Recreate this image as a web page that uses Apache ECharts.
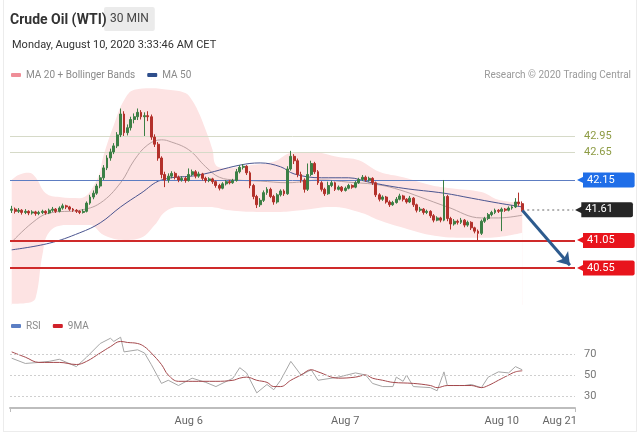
<!DOCTYPE html>
<html>
<head>
<meta charset="utf-8">
<script src="https://cdn.jsdelivr.net/npm/echarts@6/dist/echarts.min.js"></script>
<style>
  html, body { margin: 0; padding: 0; background: #fff; }
  #chart { width: 640px; height: 434px; }
  #frame { position: absolute; left: 3px; top: 0; width: 632px; height: 431px; border: 1px solid #ececec; border-top: none; pointer-events: none; }
</style>
</head>
<body>
<div id="chart"></div>
<div id="frame"></div>
<script>
// 30 min candles, [open, close, low, high]
const candles = [
  [41.60,41.62,41.55,41.68],[41.62,41.58,41.54,41.65],[41.58,41.60,41.55,41.64],[41.60,41.56,41.52,41.62],
  [41.56,41.58,41.53,41.62],[41.58,41.55,41.51,41.60],[41.55,41.57,41.52,41.60],[41.57,41.54,41.50,41.59],
  [41.54,41.56,41.51,41.59],[41.56,41.58,41.53,41.61],[41.58,41.55,41.52,41.60],[41.55,41.60,41.53,41.63],
  [41.60,41.62,41.57,41.66],[41.62,41.58,41.55,41.64],[41.58,41.64,41.56,41.67],[41.64,41.68,41.61,41.72],
  [41.68,41.66,41.62,41.70],[41.66,41.62,41.59,41.68],[41.62,41.60,41.57,41.64],[41.60,41.58,41.55,41.62],
  [41.58,41.56,41.53,41.60],[41.56,41.58,41.54,41.62],[41.58,41.73,41.56,41.76],[41.73,41.84,41.70,41.88],
  [41.84,41.91,41.80,41.96],[41.91,42.04,41.88,42.08],[42.04,42.19,42.00,42.24],[42.19,42.37,42.15,42.42],
  [42.37,42.55,42.33,42.60],[42.55,42.66,42.50,42.72],[42.66,42.77,42.62,42.82],[42.77,42.97,42.73,43.02],
  [42.97,43.35,42.93,43.45],[43.35,43.01,42.95,43.40],[43.01,43.10,42.96,43.16],[43.10,43.25,43.05,43.30],
  [43.25,43.30,43.18,43.36],[43.30,43.38,43.24,43.45],[43.38,43.30,43.25,43.42],[43.30,43.32,42.95,43.38],
  [43.32,43.30,43.22,43.40],[43.30,42.93,42.88,43.34],[42.93,42.80,42.75,42.98],[42.80,42.55,42.50,42.84],
  [42.55,42.25,42.18,42.58],[42.25,42.15,42.02,42.30],[42.15,42.22,42.10,42.27],[42.22,42.27,42.18,42.31],
  [42.27,42.20,42.16,42.30],[42.20,42.15,42.11,42.23],[42.15,42.18,42.12,42.22],[42.18,42.14,42.10,42.21],
  [42.14,42.25,42.12,42.36],[42.25,42.30,42.22,42.34],[42.30,42.22,42.18,42.33],[42.22,42.26,42.19,42.30],
  [42.26,42.18,42.14,42.28],[42.18,42.14,42.10,42.21],[42.14,42.17,42.11,42.20],[42.17,42.12,42.08,42.19],
  [42.12,42.05,42.01,42.14],[42.05,42.00,41.96,42.08],[42.00,42.08,41.98,42.11],[42.08,42.12,42.05,42.15],
  [42.12,42.10,42.07,42.15],[42.10,42.14,42.08,42.17],[42.14,42.30,42.12,42.35],[42.30,42.38,42.27,42.42],
  [42.38,42.40,42.34,42.44],[42.40,42.28,42.24,42.42],[42.28,42.05,42.00,42.31],[42.05,41.85,41.80,42.08],
  [41.85,41.70,41.64,41.88],[41.70,41.78,41.66,41.82],[41.78,41.92,41.75,41.96],[41.92,41.98,41.88,42.02],
  [41.98,41.85,41.82,42.01],[41.85,41.75,41.70,41.88],[41.75,41.88,41.72,41.91],[41.88,41.95,41.85,41.98],
  [41.95,41.90,41.86,41.98],[41.90,42.35,41.88,42.40],[42.35,42.58,42.32,42.68],[42.58,42.50,42.44,42.62],
  [42.50,42.25,42.20,42.54],[42.25,42.15,42.10,42.30],[42.15,41.98,41.92,42.18],[41.98,42.25,41.95,42.45],
  [42.25,42.45,42.22,42.50],[42.45,42.30,42.26,42.48],[42.30,42.10,42.06,42.33],[42.10,41.98,41.94,42.13],
  [41.98,41.90,41.86,42.01],[41.90,42.05,41.88,42.12],[42.05,42.10,42.02,42.14],[42.10,41.98,41.95,42.12],
  [41.98,42.02,41.96,42.05],[42.02,41.96,41.93,42.04],[41.96,42.00,41.94,42.03],[42.00,42.05,41.98,42.08],
  [42.05,42.02,41.99,42.07],[42.02,42.10,42.00,42.13],[42.10,42.16,42.08,42.19],[42.16,42.20,42.13,42.24],
  [42.20,42.15,42.12,42.23],[42.15,42.18,42.12,42.21],[42.18,42.10,42.06,42.20],[42.10,41.88,41.84,42.12],
  [41.88,41.80,41.76,41.91],[41.80,41.84,41.77,41.87],[41.84,41.75,41.72,41.86],[41.75,41.70,41.66,41.78],
  [41.70,41.74,41.68,41.77],[41.74,41.80,41.72,41.84],[41.80,41.86,41.78,41.90],[41.86,41.80,41.76,41.88],
  [41.80,41.75,41.72,41.82],[41.75,41.82,41.73,41.86],[41.82,41.70,41.66,41.84],[41.70,41.60,41.56,41.72],
  [41.60,41.62,41.57,41.66],[41.62,41.56,41.52,41.64],[41.56,41.58,41.53,41.61],[41.58,41.50,41.46,41.60],
  [41.50,41.42,41.38,41.53],[41.42,41.46,41.40,41.49],[41.46,41.42,41.38,41.48],[41.42,41.85,41.40,42.15],
  [41.85,41.45,41.40,41.88],[41.45,41.35,41.25,41.48],[41.35,41.40,41.32,41.44],[41.40,41.38,41.34,41.43],
  [41.38,41.42,41.35,41.46],[41.42,41.33,41.29,41.44],[41.33,41.38,41.30,41.41],[41.38,41.28,41.24,41.40],
  [41.28,41.22,41.18,41.30],[41.22,41.18,41.05,41.25],[41.18,41.40,41.15,41.43],[41.40,41.45,41.37,41.48],
  [41.45,41.52,41.42,41.55],[41.52,41.56,41.49,41.59],[41.56,41.60,41.53,41.63],[41.60,41.58,41.55,41.62],
  [41.58,41.62,41.22,41.65],[41.62,41.60,41.57,41.64],[41.60,41.64,41.58,41.67],[41.64,41.66,41.61,41.69],
  [41.66,41.75,41.64,41.82],[41.75,41.72,41.68,41.92],[41.72,41.61,41.58,41.76]
];
const emptySlots = 15;   // blank room on the right of the last candle

// indicators read at sample candles: [candle index, value]
const ma20 = [[0,41.02],[6,41.37],[11,41.55],[20,41.60],[26,41.73],[32,42.10],[36,42.51],[40,42.79],
  [44,42.88],[46,42.86],[52,42.70],[57,42.39],[61,42.20],[66,42.15],[73,42.13],[81,42.10],[91,42.15],
  [99,42.11],[108,42.06],[114,41.97],[120,41.84],[128,41.66],[138,41.46],[143,41.46],[150,41.51]];
const ma50 = [[0,40.88],[11,41.00],[20,41.19],[26,41.37],[32,41.66],[38,41.91],[44,42.15],[55,42.24],
  [67,42.42],[73,42.46],[79,42.39],[83,42.26],[91,42.19],[99,42.19],[105,42.11],[115,42.00],[127,41.91],
  [135,41.82],[143,41.73],[150,41.66]];
const bandUpper = [[0,42.15],[2,42.24],[5,42.28],[7,42.20],[10,41.91],[14,41.84],[20,41.82],[25,42.15],
  [27,42.60],[30,43.15],[33,43.60],[36,43.79],[41,43.82],[46,43.79],[51,43.73],[53,43.60],[55,43.37],
  [57,43.06],[59,42.70],[60,42.42],[63,42.37],[70,42.42],[77,42.48],[82,42.64],[88,42.66],[96,42.57],
  [102,42.51],[108,42.30],[115,42.20],[123,42.06],[129,42.00],[138,41.93],[143,41.79],[150,41.73]];
const bandLower = [[0,39.90],[5,39.92],[7,40.00],[9,40.78],[11,41.20],[16,41.33],[23,41.33],[27,41.15],
  [33,41.06],[38,41.10],[42,41.33],[45,41.57],[49,41.66],[58,41.66],[64,41.60],[72,41.57],[79,41.57],
  [85,41.60],[94,41.66],[102,41.57],[108,41.42],[114,41.30],[123,41.15],[132,41.10],[140,41.10],[150,41.19]];

const rsi = [[0,66],[4,61],[8,62],[11,63],[14,65],[19,58],[22,67],[26,80],[29,85],[30,82],[32,86],[33,72],
  [37,74],[39,71],[41,60],[44,42],[46,45],[49,40],[53,47],[57,43],[60,39],[65,47],[67,57],[69,52],[72,33],
  [75,41],[77,36],[79,45],[82,63],[85,50],[88,55],[90,45],[96,48],[101,52],[104,50],[106,42],[109,39],
  [112,39],[113,48],[115,44],[116,50],[118,39],[123,38],[125,35],[127,53],[128,40],[133,40],[135,41],
  [138,38],[140,48],[143,53],[146,52],[148,58],[150,55]];
const rsiMa = [[0,72],[4,67],[8,62],[14,62],[19,60],[22,63],[26,71],[29,77],[32,82],[34,81],[37,80],
  [39,77],[41,71],[44,60],[46,50],[49,44],[53,44],[60,44],[65,45],[67,47],[69,48],[72,45],[75,43],[77,39],
  [79,39],[82,45],[85,50],[88,55],[90,53],[96,47],[101,48],[104,50],[106,47],[109,45],[112,43],[118,42],
  [123,40],[125,38],[128,40],[135,40],[138,38],[140,40],[143,45],[146,50],[148,53],[150,54]];
const rsiLevels = [30, 50, 70];

const resistances = [42.95, 42.65];
const pivot = 42.15;
const lastPrice = 41.61;
const supports = [41.05, 40.55];
const arrowTarget = [164, 40.60];

const dateLabelIdx = [52, 98, 144, 161];
const dateLabelText = ['Aug 6', 'Aug 7', 'Aug 10', 'Aug 21'];

const nCat = candles.length + emptySlots;
const cats = [];
for (let i = 0; i < nCat; i++) cats.push(String(i));
const lastIdx = candles.length - 1;

function tag(bg, value) {
  return {
    show: true, position: 'end', distance: 2,
    formatter: '{p|◀}{b|' + value.toFixed(2) + '}',
    rich: {
      p: { color: bg, fontSize: 12, padding: [0, -3, 0, 0] },
      b: { color: '#fff', backgroundColor: bg, fontSize: 11, padding: [2, 20, 2, 4], borderRadius: [0, 2, 2, 0] }
    }
  };
}

const levelLines = [];
resistances.forEach(function (v) {
  levelLines.push({
    yAxis: v, lineStyle: { color: '#d6dac8', width: 1, type: 'solid' },
    label: { show: true, position: 'end', distance: 9, color: '#8e9c45', fontSize: 11, formatter: v.toFixed(2) }
  });
});
levelLines.push({ yAxis: pivot, lineStyle: { color: '#5d7dc2', width: 1, type: 'solid' }, label: tag('#1f6ee8', pivot) });
supports.forEach(function (v) {
  levelLines.push({ yAxis: v, lineStyle: { color: '#cf2a2a', width: 2, type: 'solid' }, label: tag('#e8141c', v) });
});
levelLines.push([
  { coord: [lastIdx, lastPrice], lineStyle: { color: '#9a9a9a', width: 1.5, type: [2, 3] }, label: tag('#262626', lastPrice) },
  { coord: [nCat - 1, lastPrice] }
]);
levelLines.push([
  { coord: [lastIdx, lastPrice - 0.01], symbol: 'none', lineStyle: { color: '#2d5b8e', width: 3, type: 'solid' }, label: { show: false } },
  { coord: arrowTarget, symbol: 'arrow', symbolSize: 12 }
]);

const rsiLines = rsiLevels.map(function (v) {
  return { yAxis: v, label: { show: true, position: 'end', distance: 9, color: '#777', fontSize: 11, formatter: String(v) } };
});

const chart = echarts.init(document.getElementById('chart'));
chart.setOption({
  animation: false,
  textStyle: { fontFamily: 'Roboto, sans-serif' },
  title: [
    { text: 'Crude Oil (WTI)', left: 5, top: 8, textStyle: { fontSize: 14, fontWeight: 'bold', color: '#333' } },
    { text: '30 MIN', left: 104, top: 7, padding: [6, 6], backgroundColor: '#ebebeb', borderRadius: 2,
      textStyle: { fontSize: 12, fontWeight: 'normal', color: '#444' } },
    { text: 'Monday, August 10, 2020 3:33:46 AM CET', left: 7, top: 35, textStyle: { fontSize: 11, fontWeight: 'normal', color: '#333' } },
    { text: 'Research © 2020 Trading Central', right: 4, top: 65, textStyle: { fontSize: 10, fontWeight: 'normal', color: '#9a9a9a' } }
  ],
  legend: [
    { left: 6, top: 65, itemWidth: 10, itemHeight: 4, itemGap: 12, icon: 'roundRect',
      textStyle: { fontSize: 10, color: '#8a8a8a' },
      data: [{ name: 'MA 20 + Bollinger Bands', itemStyle: { color: '#ef8e98' } }, { name: 'MA 50', itemStyle: { color: '#2e4e8c' } }] },
    { left: 6, top: 316, itemWidth: 10, itemHeight: 4, itemGap: 12, icon: 'roundRect',
      textStyle: { fontSize: 10, color: '#8a8a8a' },
      data: [{ name: 'RSI', itemStyle: { color: '#5b7ec4' } }, { name: '9MA', itemStyle: { color: '#d0212a' } }] }
  ],
  grid: [
    { left: 10, right: 65, top: 85, bottom: 129 },
    { left: 10, right: 65, top: 335, bottom: 26 }
  ],
  xAxis: [
    { type: 'category', gridIndex: 0, data: cats, show: false },
    { type: 'category', gridIndex: 1, data: cats,
      axisLine: { lineStyle: { color: '#bdbdbd', width: 2 } },
      axisTick: { show: true, length: 4, lineStyle: { color: '#bdbdbd' }, interval: function (i) { return i === 0; } },
      axisLabel: {
        color: '#666', fontSize: 11, margin: 8,
        interval: function (i) { return dateLabelIdx.indexOf(i) >= 0; },
        formatter: function (v, i) { const k = dateLabelIdx.indexOf(i); return k >= 0 ? dateLabelText[k] : ''; }
      } }
  ],
  yAxis: [
    { type: 'value', gridIndex: 0, min: 39.877, max: 43.877, show: false, splitLine: { show: false } },
    { type: 'value', gridIndex: 1, min: 18.6, max: 88.1, show: false, splitLine: { show: false } }
  ],
  series: [
    { name: 'upper', type: 'line', data: bandUpper, smooth: 0.4, symbol: 'none', silent: true, z: 1,
      lineStyle: { width: 0 }, areaStyle: { color: '#fde3e3', opacity: 1, origin: 'start' } },
    { name: 'lower', type: 'line', data: bandLower, smooth: 0.4, symbol: 'none', silent: true, z: 2,
      lineStyle: { width: 0 }, areaStyle: { color: '#ffffff', opacity: 1, origin: 'start' } },
    { name: 'MA 20 + Bollinger Bands', type: 'line', data: ma20, smooth: 0.4, symbol: 'none', z: 3,
      itemStyle: { color: '#ef8e98' }, lineStyle: { color: '#bba2a2', width: 1 } },
    { name: 'MA 50', type: 'line', data: ma50, smooth: 0.4, symbol: 'none', z: 3,
      itemStyle: { color: '#2e4e8c' }, lineStyle: { color: '#4b5590', width: 1 } },
    { name: 'price', type: 'candlestick', data: candles, barWidth: 2.4, z: 5,
      itemStyle: { color: '#3c7f45', color0: '#b3312b', borderColor: '#3c7f45', borderColor0: '#b3312b', borderWidth: 1 },
      markLine: { silent: true, symbol: ['none', 'none'], precision: 2, data: levelLines } },
    { name: 'RSI', type: 'line', xAxisIndex: 1, yAxisIndex: 1, data: rsi, symbol: 'none',
      itemStyle: { color: '#5b7ec4' }, lineStyle: { color: '#a6a6a6', width: 1 },
      markLine: { silent: true, symbol: ['none', 'none'], lineStyle: { color: '#cfcfcf', type: [2, 2], width: 1 }, data: rsiLines } },
    { name: '9MA', type: 'line', xAxisIndex: 1, yAxisIndex: 1, data: rsiMa, smooth: 0.4, symbol: 'none',
      itemStyle: { color: '#d0212a' }, lineStyle: { color: '#a4484c', width: 1 } }
  ]
});
</script>
</body>
</html>
